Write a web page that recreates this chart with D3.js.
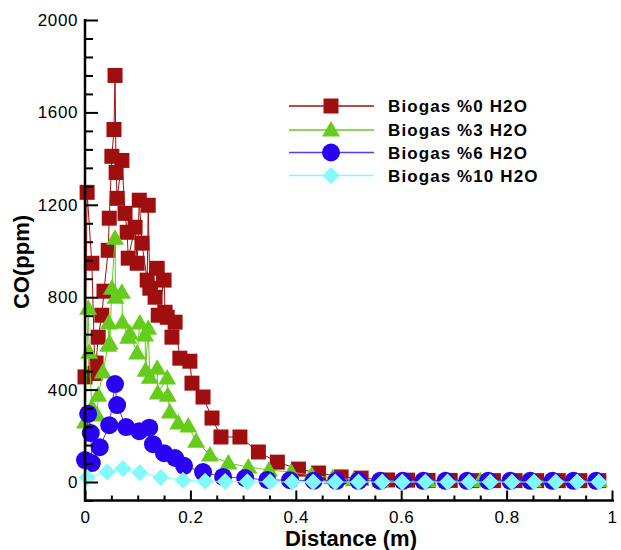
<!DOCTYPE html>
<html>
<head>
<meta charset="utf-8">
<script src="https://cdn.jsdelivr.net/npm/d3@7"></script>
<style>
  html, body { margin: 0; padding: 0; background: #fff; }
  svg { display: block; }
  text { font-family: "Liberation Sans", Arial, sans-serif; fill: #000; }
</style>
</head>
<body>
<svg id="chart" width="621" height="550"></svg>
<script>
// CO concentration along the burner axis for four biogas humidity levels
const seriesNames = ["Biogas %0 H2O", "Biogas %3 H2O", "Biogas %6 H2O", "Biogas %10 H2O"];

const h2o0_x = [0.000,0.004,0.013,0.019,0.021,0.025,0.032,0.036,0.044,0.046,0.051,0.055,0.057,0.059,0.061,0.070,0.076,0.080,0.082,0.095,0.099,0.103,0.108,0.118,0.120,0.123,0.133,0.137,0.139,0.150,0.152,0.156,0.165,0.171,0.180,0.199,0.203,0.224,0.241,0.258,0.294,0.329,0.365,0.405,0.443,0.486,0.524,0.574,0.612,0.651,0.693,0.734,0.775,0.816,0.857,0.898,0.939,0.975];
const h2o0_y = [455,1254,947,470,515,627,722,826,1003,1142,1410,1526,1760,1340,1228,1392,1163,1081,969,1103,947,1220,1034,874,1198,839,800,925,722,874,735,713,627,692,536,523,428,368,277,195,195,130,86,56,39,22,17,9,8,7,7,6,6,6,6,6,6,6];

const h2o3_x = [0.000,0.006,0.008,0.013,0.023,0.025,0.034,0.044,0.045,0.047,0.051,0.057,0.058,0.070,0.071,0.082,0.085,0.099,0.104,0.114,0.115,0.120,0.123,0.137,0.138,0.156,0.157,0.161,0.177,0.196,0.211,0.237,0.272,0.310,0.349,0.391,0.430,0.470,0.510,0.560,0.650,0.750,0.850,0.975];
const h2o3_y = [260,752,562,324,290,376,476,592,688,601,839,1055,800,822,692,627,644,558,688,636,484,666,454,493,385,450,376,303,255,242,177,117,82,65,52,43,30,18,10,6,5,5,5,5];

const h2o6_x = [0.000,0.006,0.011,0.013,0.028,0.046,0.057,0.061,0.078,0.103,0.122,0.129,0.150,0.171,0.188,0.224,0.262,0.304,0.346,0.389,0.434,0.477,0.519,0.560,0.603,0.642,0.684,0.725,0.765,0.807,0.845,0.887,0.927,0.970];
const h2o6_y = [95,295,212,82,151,246,424,333,238,220,235,164,125,104,70,43,22,17,9,8,6,5,5,5,5,5,5,5,5,5,5,5,5,5];

const h2o10_x = [0.004,0.042,0.072,0.104,0.144,0.186,0.228,0.266,0.308,0.351,0.393,0.433,0.475,0.519,0.564,0.602,0.646,0.688,0.729,0.769,0.810,0.852,0.893,0.934,0.975];
const h2o10_y = [20,43,58,40,20,8,3,2,1,1,0,0,0,0,0,0,0,0,0,0,0,0,0,0,0];

const xMajorTicks = [0, 0.2, 0.4, 0.6, 0.8, 1];
const xMinorTicks = [0.05,0.1,0.15,0.25,0.3,0.35,0.45,0.5,0.55,0.65,0.7,0.75,0.85,0.9,0.95];
const yMajorTicks = [0, 400, 800, 1200, 1600, 2000];
const yMinorTicks = [-80,80,160,240,320,480,560,640,720,880,960,1040,1120,1280,1360,1440,1520,1680,1760,1840,1920];

const svg = d3.select("#chart");
svg.append("rect").attr("width", 621).attr("height", 550).attr("fill", "#fff");

const x = d3.scaleLinear().domain([0, 1]).range([85, 612]);
const y = d3.scaleLinear().domain([-80, 2000]).range([500.5, 20]);

const series = [
  { name: seriesNames[0], xs: h2o0_x, ys: h2o0_y, color: "#a00f0f", line: "#a00f0f", shape: "square" },
  { name: seriesNames[1], xs: h2o3_x, ys: h2o3_y, color: "#66cc1c", line: "#66cc1c", shape: "triangle" },
  { name: seriesNames[2], xs: h2o6_x, ys: h2o6_y, color: "#2a00f2", line: "#5040f0", shape: "circle" },
  { name: seriesNames[3], xs: h2o10_x, ys: h2o10_y, color: "#80fafa", line: "#80fafa", shape: "diamond" }
];

function markerPath(shape) {
  switch (shape) {
    case "square": return "M-7.5,-7.5H7.5V7.5H-7.5Z";
    case "triangle": return "M0,-9L9,6.5L-9,6.5Z";
    case "circle": return "M9,0A9,9 0 1,1 -9,0A9,9 0 1,1 9,0Z";
    case "diamond": return "M0,-8.5L8.5,0L0,8.5L-8.5,0Z";
  }
}

const plot = svg.append("g");
const line = d3.line().x(d => x(d[0])).y(d => y(d[1]));

series.forEach(s => {
  const pts = s.xs.map((v, i) => [v, s.ys[i]]);
  const g = plot.append("g");
  g.append("path").datum(pts).attr("d", line)
    .attr("fill", "none").attr("stroke", s.line).attr("stroke-width", 1);
  g.selectAll("path.m").data(pts).join("path").attr("class", "m")
    .attr("d", markerPath(s.shape))
    .attr("transform", d => `translate(${x(d[0])},${y(d[1])})`)
    .attr("fill", s.color);
});

// Axes: ticks point into the plot area
const axisG = svg.append("g");

const yAxis = axisG.append("g").attr("transform", "translate(85,0)")
  .call(d3.axisLeft(y).tickValues(yMajorTicks).tickSize(-13).tickPadding(7).tickFormat(d3.format("d")));
const yMinor = axisG.append("g").attr("transform", "translate(85,0)")
  .call(d3.axisLeft(y).tickValues(yMinorTicks).tickSize(-8).tickFormat(""));

const xAxis = axisG.append("g").attr("transform", "translate(0,500.5)")
  .call(d3.axisBottom(x).tickValues(xMajorTicks).tickSize(-10).tickPadding(10).tickFormat(d => d === 0 || d === 1 ? d3.format("d")(d) : d3.format(".1f")(d)));
const xMinor = axisG.append("g").attr("transform", "translate(0,500.5)")
  .call(d3.axisBottom(x).tickValues(xMinorTicks).tickSize(-5).tickFormat(""));

[yAxis, yMinor, xAxis, xMinor].forEach(a => {
  a.select(".domain").remove();
  a.selectAll(".tick line").attr("stroke", "#000").attr("stroke-width", 2);
});
[yAxis, xAxis].forEach(a => {
  a.selectAll(".tick text").attr("font-size", 17).attr("letter-spacing", "0.6px")
    .attr("font-family", "Liberation Sans, Arial, sans-serif").attr("fill", "#000");
});

axisG.append("line").attr("x1", 85).attr("x2", 85).attr("y1", 19).attr("y2", 501.5)
  .attr("stroke", "#000").attr("stroke-width", 2.5);
axisG.append("line").attr("x1", 84).attr("x2", 614).attr("y1", 500.5).attr("y2", 500.5)
  .attr("stroke", "#000").attr("stroke-width", 2.5);

// Axis titles
svg.append("text").attr("x", 351).attr("y", 546).attr("text-anchor", "middle")
  .attr("font-size", 22).attr("font-weight", "bold").text("Distance (m)");
svg.append("text").attr("transform", "translate(29,262) rotate(-90)").attr("text-anchor", "middle")
  .attr("font-size", 22).attr("font-weight", "bold").text("CO(ppm)");

// Legend
const legendRows = [106, 130, 152.5, 175.5];
const legend = svg.append("g");
series.forEach((s, i) => {
  const ly = legendRows[i];
  legend.append("line").attr("x1", 289).attr("x2", 374).attr("y1", ly).attr("y2", ly)
    .attr("stroke", s.line).attr("stroke-width", 1.5);
  legend.append("path").attr("d", markerPath(s.shape))
    .attr("transform", `translate(331,${ly})`).attr("fill", s.color);
  legend.append("text").attr("x", 388).attr("y", ly + 6).attr("font-size", 17)
    .attr("font-weight", "bold").attr("letter-spacing", "1.1px").text(s.name);
});
</script>
</body>
</html>
